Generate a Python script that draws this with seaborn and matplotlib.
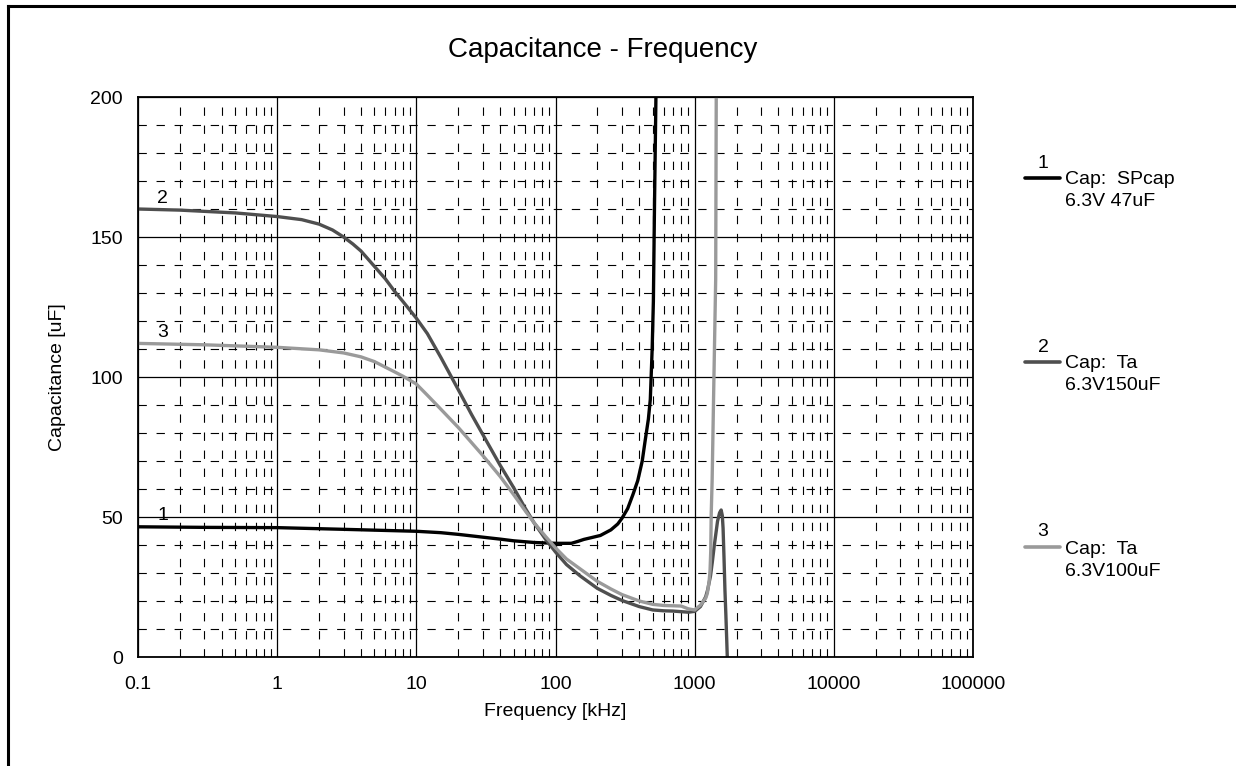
import numpy as np
import pandas as pd
import matplotlib
matplotlib.use("Agg")
import matplotlib.pyplot as plt
from matplotlib.lines import Line2D
from matplotlib.ticker import LogLocator, MultipleLocator, FixedLocator, NullFormatter
import seaborn as sns

# ---------------- data ----------------
series_names = ["1", "2", "3"]
legend_texts = ["Cap:  SPcap\n6.3V 47uF", "Cap:  Ta\n6.3V150uF", "Cap:  Ta\n6.3V100uF"]

freq1 = [0.1, 0.3, 1, 3, 10, 15, 20, 30, 40, 50, 70, 100, 130, 145, 160, 180, 210,
         250, 280, 300, 330, 360, 390, 420, 440, 465, 480, 495, 505, 515, 530]
cap1 = [46.5, 46.3, 46.2, 45.6, 44.9, 44.4, 43.8, 42.8, 42.1, 41.5, 40.9, 40.6,
        40.6, 41.3, 42.0, 42.6, 43.4, 45.4, 47.5, 49.5, 53, 58, 63, 70, 77, 85, 92,
        110, 127, 163, 210]

freq2 = [0.1, 0.2, 0.5, 1, 1.5, 2, 2.5, 3, 3.5, 4, 5, 6, 7, 8, 10, 12, 15, 20, 25,
         30, 40, 50, 60, 70, 85, 100, 120, 150, 200, 250, 300, 400, 500, 600, 700,
         900, 1000, 1100, 1200, 1240, 1300, 1340, 1380, 1420, 1460, 1510, 1550,
         1580, 1600, 1626, 1650, 1676, 1700, 1718, 1740]
cap2 = [160, 159.6, 158.6, 157.3, 156.2, 154.6, 152.5, 150, 147.5, 145, 139.5,
        135, 130.5, 127, 121, 115.5, 107, 95.5, 86.5, 79.5, 68.5, 60.5, 53.5, 48,
        42, 37.5, 33, 29, 24.5, 22, 20.2, 18, 16.8, 16.5, 16.4, 16.0, 16.3, 18,
        21.5, 24, 29, 34, 39.4, 44, 48.5, 51.5, 52.5, 50.5, 46, 35, 24, 15, 6, -1, -6]

freq3 = [0.1, 0.3, 1, 2, 3, 4, 5, 6, 7, 8, 10, 12, 15, 20, 25, 30, 40, 50, 60, 70,
         85, 100, 120, 150, 200, 250, 300, 400, 500, 600, 800, 900, 1000, 1100,
         1200, 1233, 1270, 1290, 1305, 1315, 1335, 1370, 1416, 1430]
cap3 = [112, 111.5, 110.6, 109.7, 108.6, 107.2, 105.5, 103.5, 101.8, 100.3, 97.5,
        93.5, 88.5, 82, 76.5, 72, 64.5, 58, 52.5, 48, 43, 39, 35, 31.5, 27, 24.3,
        22.3, 20, 18.8, 18.4, 18.2, 17.2, 16.8, 18.5, 21, 22.7, 27, 31, 38, 51, 63,
        95, 135, 205]

x_ticks = [0.1, 1, 10, 100, 1000, 10000, 100000]
x_tick_labels = ["0.1", "1", "10", "100", "1000", "10000", "100000"]
y_ticks = [0, 50, 100, 150, 200]

colors = {"1": "#000000", "2": "#4f4f4f", "3": "#9a9a9a"}

df = pd.concat([
    pd.DataFrame({"freq": freq1, "cap": cap1, "series": "1"}),
    pd.DataFrame({"freq": freq2, "cap": cap2, "series": "2"}),
    pd.DataFrame({"freq": freq3, "cap": cap3, "series": "3"}),
], ignore_index=True)

# ---------------- style ----------------
sns.set_style("white")
plt.rcParams["font.family"] = ["Liberation Sans", "DejaVu Sans"]
plt.rcParams["lines.scale_dashes"] = False
plt.rcParams["text.color"] = "black"
plt.rcParams["axes.labelcolor"] = "black"
plt.rcParams["xtick.color"] = "black"
plt.rcParams["ytick.color"] = "black"

W, H = 1236, 766
fig = plt.figure(figsize=(W / 100, H / 100), dpi=100)
ax = fig.add_axes([138 / W, 1 - 657 / H, (973 - 138) / W, (657 - 97) / H])

sns.lineplot(data=df, x="freq", y="cap", hue="series", palette=colors,
             estimator=None, sort=False, linewidth=2.4, legend=False, ax=ax)
for ln in ax.lines:
    ln.set_solid_joinstyle("round")
    ln.set_solid_capstyle("round")

ax.set_xscale("log")
ax.set_xlim(0.1, 100000)
ax.set_ylim(0, 200)

ax.xaxis.set_major_locator(FixedLocator(x_ticks))
ax.set_xticklabels(x_tick_labels)
ax.xaxis.set_minor_locator(LogLocator(base=10, subs=np.arange(2, 10)))
ax.xaxis.set_minor_formatter(NullFormatter())
ax.yaxis.set_major_locator(FixedLocator(y_ticks))
ax.yaxis.set_minor_locator(MultipleLocator(10))

ax.grid(which="major", color="black", linewidth=0.9, linestyle="-")
ax.grid(which="minor", color="black", linewidth=0.8, linestyle=(0, (6, 7)))
ax.set_axisbelow(True)

ax.tick_params(which="both", length=0)
ax.tick_params(axis="x", which="major", labelsize=14, pad=14, labelcolor="black")
ax.tick_params(axis="y", which="major", labelsize=14, pad=11, labelcolor="black")
for s in ax.spines.values():
    s.set_color("black")
    s.set_linewidth(1.3)

ax.set_xlabel("")
ax.set_ylabel("")

# curve number labels near the left edge
x_lab = 0.15
for name, fr, cp in [("1", freq1, cap1), ("2", freq2, cap2), ("3", freq3, cap3)]:
    yv = np.interp(np.log10(x_lab), np.log10(fr), cp)
    ax.annotate(name, xy=(x_lab, yv), xytext=(0, 2), textcoords="offset points",
                ha="center", va="bottom", fontsize=14, color="black")


def fx(x):
    return x / W


def fy(y):
    return 1 - y / H


fig.text(fx(603), fy(50), "Capacitance - Frequency", ha="center", va="center",
         fontsize=20, color="black")
fig.text(fx(555), fy(711), "Frequency [kHz]", ha="center", va="center",
         fontsize=14, color="black")
fig.text(fx(58), fy(377), "Capacitance [uF]", ha="center", va="center",
         fontsize=14, rotation=90, color="black")

# custom legend
leg_line_y = [178, 362, 547]
for name, txt, ly in zip(series_names, legend_texts, leg_line_y):
    fig.add_artist(Line2D([fx(1025), fx(1060)], [fy(ly), fy(ly)], color=colors[name],
                          linewidth=2.6, transform=fig.transFigure))
    fig.text(fx(1043), fy(ly - 15), name, ha="center", va="center", fontsize=14,
             color="black")
    l1, l2 = txt.split("\n")
    fig.text(fx(1065), fy(ly + 2), l1, ha="left", va="center", fontsize=14, color="black")
    fig.text(fx(1065), fy(ly + 24), l2, ha="left", va="center", fontsize=14, color="black")

# outer frame (left and top edges)
fig.add_artist(Line2D([fx(7.5), fx(7.5)], [fy(6), 0], color="black", linewidth=2.2,
                      transform=fig.transFigure, solid_capstyle="projecting"))
fig.add_artist(Line2D([fx(7.5), 1], [fy(6), fy(6)], color="black", linewidth=2.2,
                      transform=fig.transFigure, solid_capstyle="projecting"))

fig.savefig("out.png", dpi=100)
